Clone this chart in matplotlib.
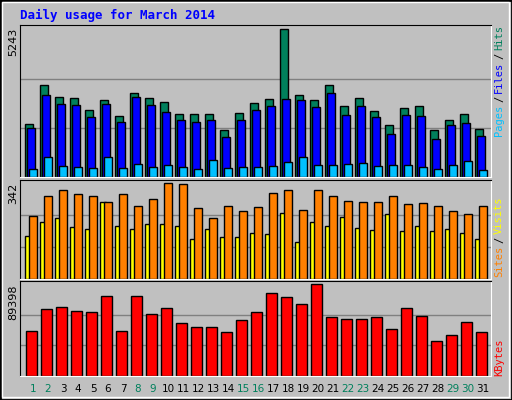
import matplotlib
matplotlib.use("Agg")
import matplotlib.pyplot as plt
import matplotlib.patches as mpatches
import numpy as np

# Daily usage for March 2014
days = list(range(1, 32))
hits = [1870, 3255, 2829, 2793, 2367, 2722, 2154, 2971, 2793, 2651, 2225, 2225, 2225, 1657, 2260, 2616,
        2758, 5243, 2900, 2722, 3255, 2509, 2793, 2332, 1834, 2438, 2509, 1657, 2012, 2225, 1692]
files = [1728, 2900, 2580, 2545, 2118, 2580, 1941, 2829, 2545, 2296, 2012, 1941, 2012, 1408, 2012, 2367,
         2509, 2758, 2722, 2474, 2971, 2189, 2509, 2118, 1515, 2189, 2154, 1337, 1834, 1905, 1444]
pages = [272, 698, 379, 343, 308, 698, 308, 450, 343, 414, 343, 272, 592, 308, 343, 343,
         379, 521, 698, 414, 414, 450, 485, 379, 414, 414, 343, 272, 414, 556, 237]
visits = [223, 294, 316, 301, 294, 275, 301, 260, 286, 342, 338, 253, 216, 260, 242, 256,
          305, 316, 245, 316, 297, 279, 275, 275, 297, 268, 271, 260, 242, 230, 260]
sites = [152, 204, 216, 186, 178, 275, 190, 178, 197, 197, 190, 141, 178, 149, 149, 164,
         160, 234, 130, 204, 190, 219, 182, 175, 230, 171, 190, 171, 178, 164, 141]
kbytes = [43398, 64930, 66888, 62972, 61993, 77655, 43398, 77655, 60040, 65910, 51228, 47313, 47313,
          42418, 54165, 61993, 80592, 76677, 69825, 89398, 57100, 55143, 55143, 57100, 45354, 65910,
          58079, 33607, 39480, 52206, 42418]
weekend = [1, 2, 8, 9, 15, 16, 22, 23, 29, 30]

W, H = 512, 400
GREY = '#C0C0C0'
C_HITS, C_FILES, C_PAGES = '#00805C', '#0000FF', '#00C0FF'
C_SITES, C_VISITS, C_KB = '#FFFF00', '#FF8000', '#FF0000'

fig = plt.figure(figsize=(W / 100, H / 100), dpi=100, facecolor=GREY)

def fx(px):
    return px / W

def fy(py):
    return 1 - py / H

# outer border
fig.patches.append(mpatches.Rectangle((0, 0), 1, 1, transform=fig.transFigure, fill=False,
                                      edgecolor='black', linewidth=2))
fig.patches.append(mpatches.Rectangle((fx(2), fy(397)), fx(507), 395 / H, transform=fig.transFigure,
                                      fill=False, edgecolor='white', linewidth=1))

fig.text(fx(20), fy(15), 'Daily usage for March 2014', color='#0000FF', fontsize=9,
         fontweight='bold', family='DejaVu Sans Mono', va='center')

x = np.array(days)
xlim = (0.5, 0.5 + 471 / 15.0)

def make_ax(top, bottom, vmax, label):
    ax = fig.add_axes([fx(20), fy(bottom), fx(471), (bottom - top) / H])
    ax.set_facecolor(GREY)
    ax.set_xlim(*xlim)
    ax.set_ylim(0, vmax * 1.03)
    for g in (vmax / 3, 2 * vmax / 3):
        ax.axhline(g, color='#808080', linewidth=1, zorder=0)
    ax.set_xticks([])
    ax.set_yticks([])
    for s in ('top', 'left'):
        ax.spines[s].set_color('black')
    for s in ('bottom', 'right'):
        ax.spines[s].set_color('white')
    fig.text(fx(13), fy(top + 3), label, rotation=90, fontsize=8, family='DejaVu Sans',
             ha='center', va='top')
    return ax

kw = dict(edgecolor='black', linewidth=1, align='edge')

ax1 = make_ax(25, 177, max(hits), str(max(hits)))
ax1.bar(x - 0.167, hits, 0.53, color=C_HITS, **kw)
ax1.bar(x - 0.02, files, 0.53, color=C_FILES, **kw)
ax1.bar(x + 0.1, pages, 0.5, color=C_PAGES, **kw)

ax2 = make_ax(180, 279, max(visits), str(max(visits)))
ax2.bar(x - 0.15, sites, 0.38, color=C_SITES, **kw)
ax2.bar(x + 0.1, visits, 0.5, color=C_VISITS, **kw)

ax3 = make_ax(281, 376, max(kbytes), str(max(kbytes)))
ax3.bar(x - 0.07, kbytes, 0.7, color=C_KB, **kw)

CH = 6.2  # px per character at 7.5 pt mono

def side_label(parts, bottom_px):
    # parts listed bottom to top
    y = bottom_px
    for txt, col in parts:
        fig.text(fx(499), fy(y), txt, rotation=90, color=col, fontsize=7.5,
                 family='DejaVu Sans Mono', ha='center', va='bottom')
        y -= len(txt) * CH + 3

side_label([('Pages', C_PAGES), ('/', '#000000'), ('Files', C_FILES),
            ('/', '#000000'), ('Hits', C_HITS)], 136)
side_label([('Sites', C_VISITS), ('/', '#000000'), ('Visits', C_SITES)], 277)
side_label([('KBytes', C_KB)], 376)

for d in days:
    px = 20 + (d + 0.37 - xlim[0]) * 15.0
    fig.text(fx(px), fy(389), str(d), color=C_HITS if d in weekend else 'black',
             fontsize=7.5, family='DejaVu Sans', ha='center', va='center')

fig.savefig('out.png', dpi=100, facecolor=GREY)
